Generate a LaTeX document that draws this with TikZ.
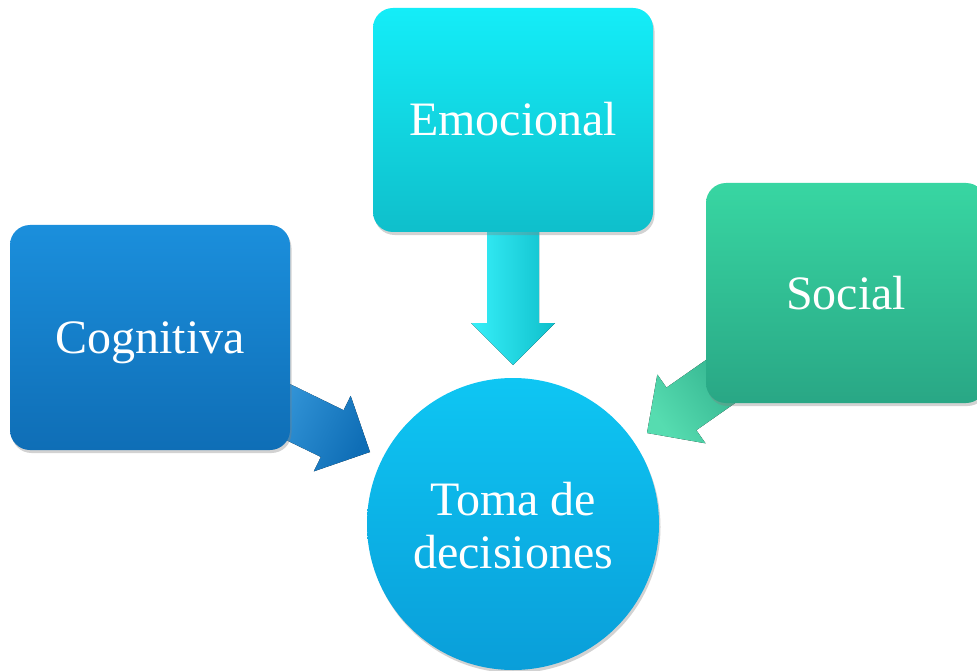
\documentclass[tikz,border=0pt]{standalone}
\usepackage{fontspec}
\setmainfont{Liberation Serif}
\usetikzlibrary{shadows}
\definecolor{cogTop}{HTML}{1B8FDC}
\definecolor{cogBot}{HTML}{0F6EB6}
\definecolor{emoTop}{HTML}{14EDF8}
\definecolor{emoBot}{HTML}{0FBFCB}
\definecolor{socTop}{HTML}{38D6A2}
\definecolor{socBot}{HTML}{29A785}
\definecolor{cirTop}{HTML}{0EC6F3}
\definecolor{cirBot}{HTML}{0A9ED9}
\tikzset{
  boxnode/.style={draw=none, rounded corners=20pt, minimum width=280pt,
    text=white, font=\fontsize{48}{53}\selectfont, text height=32pt, text depth=0pt,
    drop shadow={opacity=0.35, shadow xshift=1.5pt, shadow yshift=-3pt}},
  circnode/.style={circle, draw=none, minimum size=292pt, inner sep=0pt,
    text=white, font=\fontsize{48}{53}\selectfont,
    top color=cirTop, bottom color=cirBot,
    drop shadow={opacity=0.35, shadow xshift=1.5pt, shadow yshift=-3pt}}
}
\newcommand{\blockarr}[6]{% tip coord, angle, length, colour, dark colour, shading angle
  \begin{scope}[shift={(#1)}, rotate=#2]
    \fill[left color=#4!85!white, middle color=#4!65!white, right color=#5, shading angle=#6]
      (-#3,-26) -- (-42,-26) -- (-42,-42) -- (0,0) -- (-42,42) -- (-42,26) -- (-#3,26) -- cycle;
  \end{scope}}
\begin{document}
\begin{tikzpicture}[x=1pt,y=-1pt]
\clip (0,0) rectangle (977,671);
\fill[white] (0,0) rectangle (977,671);
% arrow tips
\coordinate (emotip) at (513,365);
\coordinate (cogtip) at (370,452);
\coordinate (soctip) at (647,433);
% arrows (behind boxes)
\blockarr{emotip}{-90}{140}{emoTop}{emoBot}{90}
\blockarr{cogtip}{-26}{130}{cogTop}{cogBot}{64}
\blockarr{soctip}{-145}{130}{socTop}{socBot}{125}
% boxes
\node[boxnode, minimum height=225pt, top color=cogTop, bottom color=cogBot] (cog) at (150,337.5) {Cognitiva};
\node[boxnode, minimum height=224pt, top color=emoTop, bottom color=emoBot] (emo) at (513,120) {Emocional};
\node[boxnode, minimum height=220pt, top color=socTop, bottom color=socBot] (soc) at (846,293) {Social};
\node[circnode] (toma) at (513,524) {\raisebox{-7pt}[\height][\depth]{\begin{tabular}{@{}c@{}}Toma de\\decisiones\end{tabular}}};
\end{tikzpicture}
\end{document}
